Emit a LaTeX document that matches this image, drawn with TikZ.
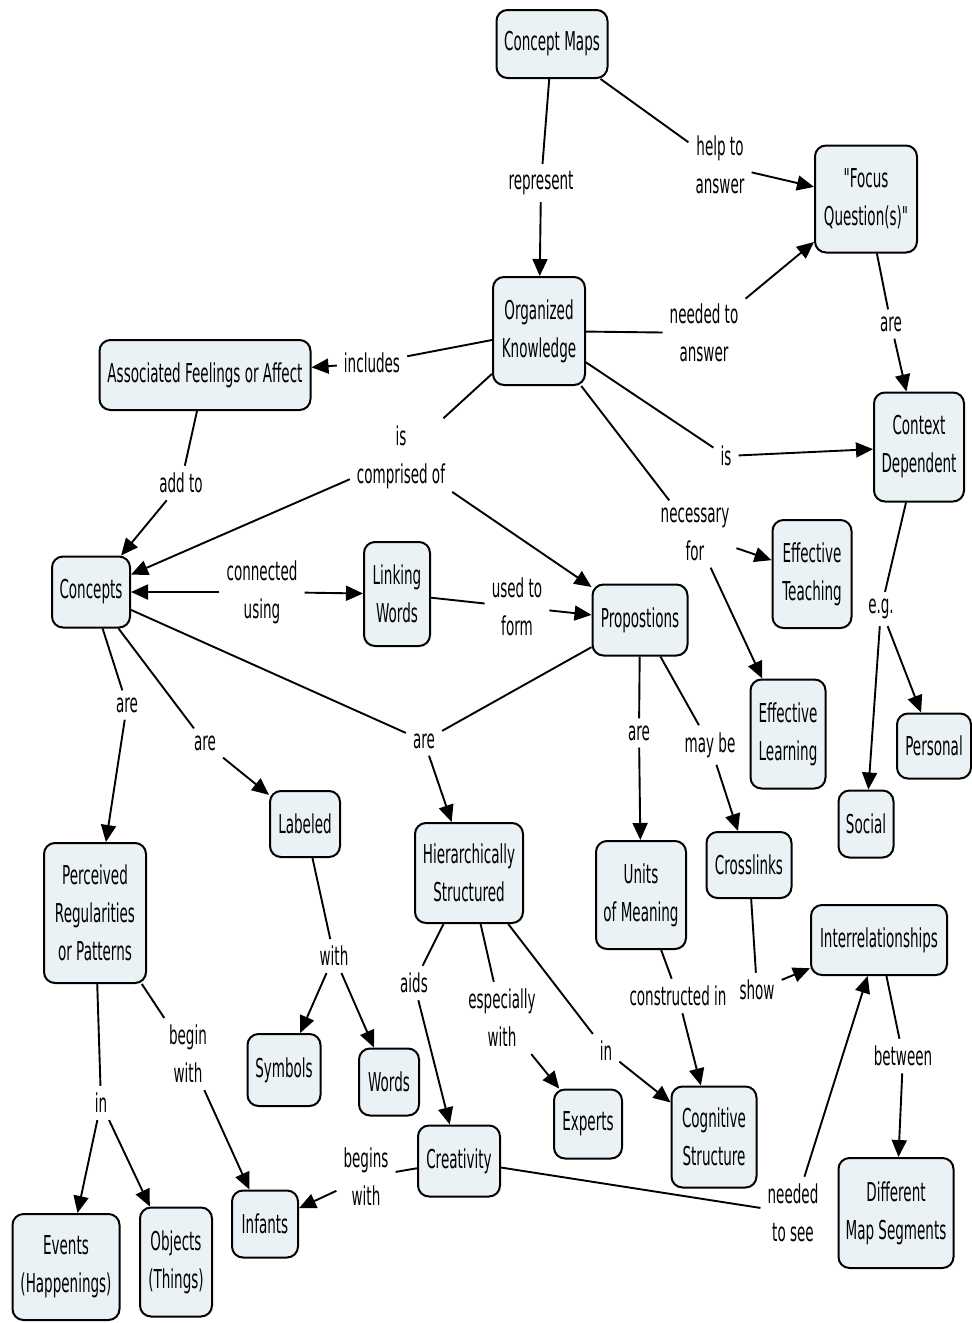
\documentclass[tikz,border=0pt]{standalone}
\usepackage{fontspec}
\setmainfont{DejaVu Sans}[FakeStretch=0.52, Ligatures=TeXOff]
\usetikzlibrary{arrows.meta}
\definecolor{cfill}{HTML}{EBF2F5}
\begin{document}
\begin{tikzpicture}[x=1pt,y=-1pt,
  every node/.style={font=\fontsize{26}{38}\selectfont, align=center},
  concept/.style={draw=black, line width=2pt, fill=cfill, rounded corners=11pt, inner sep=2pt},
  phrase/.style={inner sep=7pt},
  conn/.style={line width=1.9pt},
  arr/.style={conn, -{Triangle[length=17pt,width=15pt]}}]
\useasboundingbox (0,0) rectangle (972,1323);

% concepts
\node[concept, minimum width=111, minimum height=68]  (cmap)      at (552,44)   {Concept Maps};
\node[concept, minimum width=102, minimum height=107] (focus)     at (866,199)  {"Focus\\Question(s)"};
\node[concept, minimum width=92,  minimum height=108] (orgk)      at (539,331)  {Organized\\Knowledge};
\node[concept, minimum width=211, minimum height=70]  (assoc)     at (205,375)  {Associated Feelings or Affect};
\node[concept, minimum width=90,  minimum height=109] (context)   at (919,447)  {Context\\Dependent};
\node[concept, minimum width=78,  minimum height=71]  (concepts)  at (91,592)   {Concepts};
\node[concept, minimum width=66,  minimum height=104] (linkw)     at (397,594)  {Linking\\Words};
\node[concept, minimum width=95,  minimum height=71]  (props)     at (640,620)  {Propostions};
\node[concept, minimum width=79,  minimum height=108] (effteach)  at (812,574)  {Effective\\Teaching};
\node[concept, minimum width=75,  minimum height=109] (efflearn)  at (788,734)  {Effective\\Learning};
\node[concept, minimum width=74,  minimum height=65]  (personal)  at (934,746)  {Personal};
\node[concept, minimum width=55,  minimum height=67]  (social)    at (866,824)  {Social};
\node[concept, minimum width=70,  minimum height=66]  (labeled)   at (305,824)  {Labeled};
\node[concept, minimum width=102, minimum height=140] (perceived) at (95,913)   {Perceived\\Regularities\\or Patterns};
\node[concept, minimum width=108, minimum height=100] (hier)      at (469,873)  {Hierarchically\\Structured};
\node[concept, minimum width=90,  minimum height=108] (units)     at (641,895)  {Units\\of Meaning};
\node[concept, minimum width=85,  minimum height=66]  (cross)     at (749,865)  {Crosslinks};
\node[concept, minimum width=136, minimum height=70]  (interrel)  at (879,940)  {Interrelationships};
\node[concept, minimum width=73,  minimum height=72]  (symbols)   at (284,1070) {Symbols};
\node[concept, minimum width=60,  minimum height=67]  (words)     at (389,1082) {Words};
\node[concept, minimum width=68,  minimum height=69]  (experts)   at (588,1124) {Experts};
\node[concept, minimum width=85,  minimum height=101] (cogn)      at (714,1137) {Cognitive\\Structure};
\node[concept, minimum width=82,  minimum height=71]  (creat)     at (459,1161) {Creativity};
\node[concept, minimum width=66,  minimum height=67]  (infants)   at (265,1224) {Infants};
\node[concept, minimum width=107, minimum height=106] (events)    at (66,1267)  {Events\\(Happenings)};
\node[concept, minimum width=72,  minimum height=109] (objects)   at (176,1262) {Objects\\(Things)};
\node[concept, minimum width=115, minimum height=110] (diffmap)   at (896,1213) {Different\\Map Segments};

% linking phrases
\node[phrase] (lrep)     at (541,183)  {represent};
\node[phrase] (lhelp)    at (720,165)  {help to\\answer};
\node[phrase] (lneed)    at (704,333)  {needed to\\answer};
\node[phrase] (lare1)    at (891,324)  {are};
\node[phrase] (lincl)    at (372,363)  {includes};
\node[phrase] (ladd)     at (181,483)  {add to};
\node[phrase] (lcomp)    at (401,457)  {is\\comprised of};
\node[phrase] (lis)      at (726,456)  {is};
\node[phrase] (lnec)     at (695,534)  {necessary\\for};
\node[phrase] (lconn)    at (262,592)  {connected\\using};
\node[phrase] (lused)    at (517,607)  {used to\\form};
\node[phrase] (leg)      at (881,609)  {e.g.};
\node[phrase] (lare2)    at (127,705)  {are};
\node[phrase] (lare3)    at (205,743)  {are};
\node[phrase] (lare4)    at (424,741)  {are};
\node[phrase] (lare5)    at (639,733)  {are};
\node[phrase] (lmay)     at (710,745)  {may be};
\node[phrase] (lwith)    at (334,956)  {with};
\node[phrase] (laids)    at (414,983)  {aids};
\node[phrase] (lesp)     at (502,1018) {especially\\with};
\node[phrase] (lin1)     at (606,1051) {in};
\node[phrase] (lcons)    at (678,996)  {constructed in};
\node[phrase] (lshow)    at (757,990)  {show};
\node[phrase] (lbetw)    at (903,1056) {between};
\node[phrase] (lbegin)   at (188,1054) {begin\\with};
\node[phrase] (lin2)     at (101,1103) {in};
\node[phrase] (lbegins)  at (366,1177) {begins\\with};
\node[phrase] (lseeing)  at (793,1213) {needed\\to see};

% connectors
\draw[conn] (cmap) -- (lrep);       \draw[arr] (lrep) -- (orgk);
\draw[conn] (cmap) -- (lhelp);      \draw[arr] (lhelp) -- (focus);
\draw[conn] (orgk) -- (lneed);      \draw[arr] (lneed) -- (focus);
\draw[conn] (focus) -- (lare1);     \draw[arr] (lare1) -- (context);
\draw[conn] (orgk) -- (lincl);      \draw[arr] (lincl) -- (assoc);
\draw[conn] (assoc) -- (ladd);      \draw[arr] (ladd) -- (concepts);
\draw[conn] (orgk) -- (lcomp);      \draw[arr] (lcomp) -- (concepts);
                                    \draw[arr] (lcomp) -- (props);
\draw[conn] (orgk) -- (lis);        \draw[arr] (lis) -- (context);
\draw[conn] (orgk) -- (lnec);       \draw[arr] (lnec) -- (effteach);
                                    \draw[arr] (lnec) -- (efflearn);
\draw[arr] (lconn) -- (concepts);   \draw[arr] (lconn) -- (linkw);
\draw[conn] (linkw) -- (lused);     \draw[arr] (lused) -- (props);
\draw[conn] (context) -- (leg);     \draw[arr] (leg) -- (personal);
                                    \draw[arr] (leg) -- (social);
\draw[conn] (concepts) -- (lare2);  \draw[arr] (lare2) -- (perceived);
\draw[conn] (concepts) -- (lare3);  \draw[arr] (lare3) -- (labeled);
\draw[conn] (concepts) -- (lare4);  \draw[conn] (props) -- (lare4);
                                    \draw[arr] (lare4) -- (hier);
\draw[conn] (props) -- (lare5);     \draw[arr] (lare5) -- (units);
\draw[conn] (props) -- (lmay);      \draw[arr] (lmay) -- (cross);
\draw[conn] (labeled) -- (lwith);   \draw[arr] (lwith) -- (symbols);
                                    \draw[arr] (lwith) -- (words);
\draw[conn] (hier) -- (laids);      \draw[arr] (laids) -- (creat);
\draw[conn] (hier) -- (lesp);       \draw[arr] (lesp) -- (experts);
\draw[conn] (hier) -- (lin1);       \draw[arr] (lin1) -- (cogn);
\draw[conn] (units) -- (lcons);     \draw[arr] (lcons) -- (cogn);
\draw[conn] (cross) -- (lshow);     \draw[arr] (lshow) -- (interrel);
\draw[conn] (interrel) -- (lbetw);  \draw[arr] (lbetw) -- (diffmap);
\draw[conn] (perceived) -- (lbegin);\draw[arr] (lbegin) -- (infants);
\draw[conn] (perceived) -- (lin2);  \draw[arr] (lin2) -- (events);
                                    \draw[arr] (lin2) -- (objects);
\draw[conn] (creat) -- (lbegins);   \draw[arr] (lbegins) -- (infants);
\draw[conn] (creat) -- (lseeing);   \draw[arr] (lseeing) -- (interrel);
\end{tikzpicture}
\end{document}
